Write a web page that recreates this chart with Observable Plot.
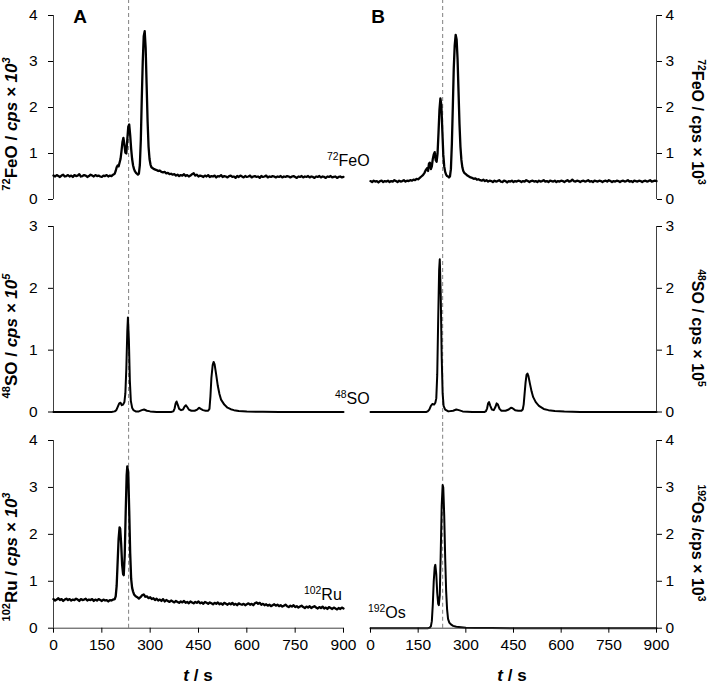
<!DOCTYPE html>
<html><head><meta charset="utf-8">
<script src="https://cdn.jsdelivr.net/npm/d3@7"></script>
<script src="https://cdn.jsdelivr.net/npm/@observablehq/plot@0.6"></script>
<style>
body{margin:0;background:#fff;}
#chart{position:relative;width:708px;height:684px;font-family:"Liberation Sans",Arial,sans-serif;}
#chart svg{position:absolute;overflow:visible;}
</style></head><body><div id="chart"></div>
<script>
// ---------- data (time in s, intensity in axis units) ----------
const xTicks = [0,150,300,450,600,750,900];
const yTicks4 = [0,1,2,3,4];
const yTicks3 = [0,1,2,3];
const ruleA = 233;   // dashed reference line, column A
const ruleB = 227;   // dashed reference line, column B

const feoA = [[0,.52],[5,.50],[10,.53],[15,.51],[20,.49],[25,.52],[30,.54],[35,.50],[40,.51],[45,.53],[50,.50],[55,.52],[60,.49],[65,.53],[70,.51],[75,.52],[80,.55],[85,.50],[90,.51],[95,.53],[100,.52],[105,.49],[110,.51],[115,.54],[120,.52],[125,.50],[130,.53],[135,.51],[140,.52],[145,.50],[150,.49],[155,.52],[160,.51],[165,.53],[170,.50],[175,.52],[180,.51],[185,.54],
[190,.56],[193,.62],[196,.70],[199,.74],[202,.72],[205,.80],[208,.88],[211,1.05],[214,1.25],[217,1.34],[220,1.20],[223,1.02],[226,1.00],[229,1.30],[232,1.58],[235,1.63],[238,1.40],[241,1.10],[244,.88],[247,.74],[250,.66],[253,.61],[256,.58],[259,.56],[262,.54],[265,.56],[268,.75],[271,1.30],[274,2.20],[277,3.00],[280,3.55],[283,3.66],[286,3.30],[289,2.50],[292,1.70],[295,1.15],[298,.88],[301,.76],[304,.70],[308,.68],[312,.66],[316,.65],[320,.64],[325,.62],[330,.63],[335,.60],[340,.59],[345,.60],[350,.57],[355,.58],[360,.55],[365,.56],[370,.54],[375,.55],[380,.52],[385,.54],[390,.51],[395,.53],[400,.52],[405,.55],
[410,.51],[415,.53],[420,.50],[425,.52],[430,.55],[435,.57],[440,.52],[445,.54],[450,.50],[455,.52],[460,.51],[465,.49],[470,.52],[475,.50],[480,.53],[485,.49],[490,.51],[495,.50],[500,.52],[505,.48],[510,.51],[515,.50],[520,.53],[525,.49],[530,.51],[535,.50],[540,.48],[545,.51],[550,.52],[555,.49],[560,.50],[565,.47],[570,.51],[575,.49],[580,.52],[585,.50],[590,.48],[595,.51],[600,.49],[605,.50],[610,.52],[615,.48],[620,.50],[625,.51],[630,.49],[635,.50],[640,.47],[645,.51],[650,.49],[655,.50],[660,.52],[665,.48],[670,.50],[675,.49],[680,.51],[685,.50],[690,.48],[695,.50],[700,.49],[705,.51],[710,.48],[715,.50],[720,.49],[725,.51],[730,.50],[735,.48],[740,.50],[745,.51],[750,.49],[755,.47],[760,.50],[765,.49],[770,.51],[775,.48],[780,.50],[785,.49],[790,.51],[795,.48],[800,.50],[805,.49],[810,.47],[815,.50],[820,.49],[825,.51],[830,.48],[835,.50],[840,.49],[845,.47],[850,.50],[855,.49],[860,.51],[865,.48],[870,.49],[875,.50],[880,.47],[885,.49],[890,.50],[895,.48],[900,.49]];

const feoB = [[0,.40],[5,.38],[10,.41],[15,.39],[20,.40],[25,.37],[30,.40],[35,.41],[40,.38],[45,.40],[50,.39],[55,.41],[60,.38],[65,.40],[70,.39],[75,.42],[80,.40],[85,.38],[90,.41],[95,.39],[100,.40],[105,.42],[110,.39],[115,.41],[120,.40],[125,.42],[130,.41],[135,.43],[140,.42],[145,.45],[150,.44],[155,.47],[160,.50],[165,.53],[170,.58],[174,.64],[178,.68],[181,.62],[184,.78],[187,.80],[190,.66],[193,.72],[196,.88],[199,.98],[202,1.03],[205,.86],[208,.82],[211,1.00],[214,1.45],[217,1.95],[220,2.20],[223,2.05],[226,1.50],[229,.98],[232,.72],[235,.60],[238,.54],[241,.51],[244,.50],[247,.48],[250,.50],[253,.66],[256,1.20],[259,2.00],[262,2.85],[265,3.35],[268,3.58],[271,3.48],[274,3.05],[277,2.35],[280,1.65],[283,1.15],[286,.86],[289,.70],[292,.62],[295,.58],[300,.55],[305,.52],[310,.50],[315,.48],[320,.47],[325,.45],[330,.46],[335,.43],[340,.44],[345,.42],
[350,.41],[355,.43],[360,.40],[365,.42],[370,.39],[375,.41],[380,.40],[385,.38],[390,.41],[395,.39],[400,.40],[405,.42],[410,.39],[415,.38],[420,.41],[425,.40],[430,.37],[435,.40],[440,.39],[445,.41],[450,.38],[455,.40],[460,.39],[465,.41],[470,.40],[475,.38],[480,.40],[485,.39],[490,.42],[495,.40],[500,.38],[505,.40],[510,.41],[515,.39],[520,.40],[525,.38],[530,.41],[535,.39],[540,.40],[545,.42],[550,.39],[555,.40],[560,.38],[565,.41],[570,.40],[575,.39],[580,.41],[585,.38],[590,.40],[595,.39],[600,.41],[605,.40],[610,.38],[615,.40],[620,.42],[625,.39],[630,.40],[635,.43],[640,.40],[645,.39],[650,.41],[655,.40],[660,.38],[665,.40],[670,.41],[675,.39],[680,.40],[685,.42],[690,.39],[695,.40],[700,.38],[705,.41],[710,.40],[715,.39],[720,.41],[725,.40],[730,.38],[735,.40],[740,.41],[745,.39],[750,.42],[755,.40],[760,.38],[765,.40],[770,.39],[775,.41],[780,.40],[785,.38],[790,.40],[795,.41],[800,.39],[805,.40],[810,.42],[815,.39],[820,.40],[825,.38],[830,.41],[835,.40],[840,.39],[845,.41],[850,.40],[855,.38],[860,.40],[865,.41],[870,.39],[875,.40],[880,.42],[885,.39],[890,.40],[895,.41],[900,.40]];

const soA = [[0,0],[180,0],[190,.01],[195,.03],[200,.09],[204,.14],[208,.15],[212,.11],[216,.12],[220,.16],[223,.30],[226,.70],[229,1.30],[231,1.53],[234,1.15],[237,.50],[240,.18],[244,.07],[248,.03],[255,.01],[265,.01],[274,.03],[281,.04],[290,.02],[300,.01],[320,0],[365,0],[372,.01],[376,.06],[379,.14],[382,.17],[386,.11],[390,.05],[396,.03],[402,.04],[407,.09],[411,.11],[415,.08],[420,.04],[428,.02],[438,.02],[446,.04],[452,.07],[457,.05],[464,.03],[472,.02],[480,.02],[484,.05],[487,.25],[490,.55],[494,.76],[497,.81],[500,.77],[505,.60],[510,.42],[515,.29],[520,.20],[530,.12],[540,.07],[550,.045],[560,.03],[575,.015],[600,.008],[650,.003],[700,0],[900,0]];

const soB = [[0,0],[175,0],[180,.01],[185,.04],[190,.10],[195,.13],[200,.12],[204,.15],[207,.22],[210,.60],[213,1.50],[216,2.30],[218,2.47],[221,1.90],[224,.90],[227,.30],[230,.10],[235,.04],[245,.01],[260,.02],[270,.04],[278,.03],[290,.01],[320,0],[358,0],[363,.01],[367,.06],[370,.14],[373,.16],[377,.10],[382,.04],[388,.03],[393,.08],[397,.14],[401,.12],[406,.05],[412,.02],[425,.02],[435,.04],[442,.07],[447,.06],[455,.03],[465,.02],[475,.02],[479,.04],[482,.12],[485,.30],[488,.48],[491,.60],[494,.62],[497,.58],[502,.45],[507,.33],[512,.24],[520,.16],[530,.10],[545,.05],[560,.03],[580,.015],[610,.007],[660,.002],[720,0],[900,0]];

const ruA = [[0,.62],[5,.59],[10,.61],[15,.64],[20,.60],[25,.62],[30,.58],[35,.61],[40,.63],[45,.60],[50,.62],[55,.59],[60,.61],[65,.60],[70,.63],[75,.61],[80,.58],[85,.62],[90,.60],[95,.61],[100,.63],[105,.59],[110,.61],[115,.60],[120,.62],[125,.58],[130,.61],[135,.59],[140,.62],[145,.60],[150,.58],[155,.61],[160,.59],[165,.60],[170,.57],[175,.60],[180,.59],[185,.61],[190,.62],
[193,.68],[196,.90],[199,1.40],[202,1.90],[205,2.15],[207,2.12],[210,1.80],[213,1.35],[216,1.15],[218,1.13],[221,1.55],[224,2.45],[227,3.25],[229,3.45],[232,3.32],[235,2.50],[238,1.60],[241,1.05],[244,.86],[247,.78],[250,.72],[255,.68],[260,.66],[265,.63],[270,.66],[275,.70],[280,.72],[285,.67],[290,.68],[295,.64],[300,.66],[305,.62],[310,.64],[315,.60],[320,.63],[325,.59],[330,.61],[335,.58],[340,.62],[345,.57],[350,.60],[355,.58],[360,.56],[365,.59],[370,.57],[375,.55],[380,.58],[385,.56],[390,.54],[395,.57],[400,.55],[405,.58],[410,.54],[415,.56],[420,.53],[425,.57],[430,.55],[435,.53],[440,.56],[445,.54],[450,.57],[455,.53],[460,.55],[465,.52],[470,.56],[475,.54],[480,.52],[485,.55],[490,.53],[495,.51],[500,.54],[505,.52],[510,.55],[515,.51],[520,.53],[525,.50],[530,.54],[535,.52],[540,.50],[545,.53],[550,.51],[555,.54],[560,.50],[565,.52],[570,.49],[575,.53],[580,.51],[585,.50],[590,.52],[595,.49],[600,.51],[605,.53],[610,.50],[615,.52],[620,.49],[625,.53],[630,.55],[635,.52],[640,.54],[645,.50],[650,.52],[655,.49],[660,.51],[665,.48],[670,.50],[675,.47],[680,.49],[685,.51],[690,.48],[695,.50],[700,.47],[705,.49],[710,.46],[715,.48],[720,.50],[725,.47],[730,.45],[735,.48],[740,.46],[745,.49],[750,.45],[755,.47],[760,.44],[765,.46],[770,.48],[775,.45],[780,.43],[785,.46],[790,.44],[795,.47],[800,.43],[805,.45],[810,.47],[815,.44],[820,.42],[825,.45],[830,.43],[835,.46],[840,.42],[845,.44],[850,.41],[855,.45],[860,.43],[865,.41],[870,.44],[875,.42],[880,.40],[885,.43],[890,.41],[895,.44],[900,.42]];

const osB = [[0,0],[180,0],[186,.01],[190,.04],[193,.15],[196,.50],[199,1.00],[202,1.30],[204,1.35],[207,1.15],[210,.75],[213,.52],[215,.49],[218,.70],[221,1.60],[224,2.60],[227,3.05],[229,3.00],[232,2.40],[235,1.50],[238,.80],[241,.40],[244,.20],[248,.12],[253,.08],[260,.05],[270,.03],[285,.02],[300,.012],[330,.006],[380,.003],[450,.001],[900,0]];

// ---------- layout ----------
const FONT = '"Liberation Sans", Arial, sans-serif';
const cols = {
  A: {x0: 0,   ml: 53, mr: 11, side: "left",  edge: 0,   rule: ruleA, pad: 11},
  B: {x0: 354, ml: 16, mr: 52, side: "right", edge: 900, rule: ruleB, pad: 4}
};
const rows = [
  {y0: 0,   h: 213, mt: 15, mb: 14,   ymax: 4, ticks: yTicks4, xaxis: false},
  {y0: 213, h: 213, mt: 13, mb: 14.5, ymax: 3, ticks: yTicks3, xaxis: false},
  {y0: 426, h: 258, mt: 14, mb: 56.3, ymax: 4, ticks: yTicks4, xaxis: true}
];
const series = {A: [feoA, soA, ruA], B: [feoB, soB, osB]};
const noisy = {A: [true, false, true], B: [true, false, false]};

const root = document.getElementById("chart");

for (const key of ["A", "B"]) {
  const c = cols[key];
  rows.forEach((r, i) => {
    const fh = r.h - r.mt - r.mb;
    const k = fh / r.ymax;
    const yTop = r.ymax + r.mt / k;
    const yBot = r.xaxis ? 0 : -r.mb / k;
    const marks = [
      Plot.ruleX([c.rule], {y1: yBot, y2: yTop, stroke: "#8c8c8c", strokeWidth: 1.1, strokeDasharray: "4,3"}),
      Plot.ruleX([c.edge], {stroke: "#404040", strokeWidth: 1}),
      Plot.line(series[key][i], {x: d => d[0], y: d => d[1], stroke: "#000", strokeWidth: noisy[key][i] ? 2.3 : 2, curve: "linear"}),
      Plot.axisY({anchor: c.side, ticks: r.ticks, tickSize: 5, tickPadding: c.pad, label: null, fontSize: 15.5, tickFormat: d => d})
    ];
    if (r.xaxis) {
      marks.push(Plot.ruleY([0], {stroke: "#404040", strokeWidth: 1}));
      marks.push(Plot.axisX({ticks: xTicks, tickSize: 5, tickPadding: 6, label: null, fontSize: 15.5, tickFormat: d => d}));
    }
    const svg = Plot.plot({
      width: 354, height: r.h,
      marginLeft: c.ml, marginRight: c.mr, marginTop: r.mt, marginBottom: r.mb,
      x: {domain: [0, 900], axis: r.xaxis ? undefined : null},
      y: {domain: [0, r.ymax]},
      style: {fontFamily: FONT, fontSize: "15.5px", background: "transparent", overflow: "visible", color: "#000"},
      marks
    });
    svg.style.left = c.x0 + "px";
    svg.style.top = r.y0 + "px";
    root.appendChild(svg);
  });
}

// ---------- text overlay ----------
const ov = d3.select(root).append("svg")
  .attr("width", 708).attr("height", 684)
  .style("left", "0px").style("top", "0px").style("pointer-events", "none")
  .attr("font-family", FONT);

function rich(sel, parts, size) {
  parts.forEach(p => {
    const ts = sel.append("tspan").text(p.t);
    if (p.sup) ts.attr("font-size", size * 0.65).attr("dy", -size * 0.4);
    if (p.after) ts.attr("dy", size * 0.4);
    if (p.it) ts.attr("font-style", "italic");
  });
}
// panel letters
ov.append("text").attr("x", 80).attr("y", 23).attr("text-anchor", "middle").attr("font-weight", "bold").attr("font-size", 19).text("A");
ov.append("text").attr("x", 378).attr("y", 23).attr("text-anchor", "middle").attr("font-weight", "bold").attr("font-size", 19).text("B");

// series labels
const sl = [
  {x: 327, y: 166, iso: "72", el: "FeO"},
  {x: 335, y: 404, iso: "48", el: "SO"},
  {x: 304, y: 600, iso: "102", el: "Ru"},
  {x: 368, y: 618, iso: "192", el: "Os"}
];
sl.forEach(s => {
  const t = ov.append("text").attr("x", s.x).attr("y", s.y).attr("font-size", 16);
  rich(t, [{t: s.iso, sup: true}, {t: s.el, after: true}], 16);
});

// y-axis titles
const yt = [
  {x: 17, y: 124, rot: -90, iso: "72", el: "FeO", unit: " / ", exp: "3", it: true, fs: 17},
  {x: 17, y: 336, rot: -90, iso: "48", el: "SO", unit: " / ", exp: "5", it: true, fs: 17},
  {x: 17, y: 557, rot: -90, iso: "102", el: "Ru", unit: " / ", exp: "3", it: true, fs: 17},
  {x: 692, y: 122, rot: 90, iso: "72", el: "FeO", unit: " / ", exp: "3", it: false, fs: 16},
  {x: 692, y: 328, rot: 90, iso: "48", el: "SO", unit: " / ", exp: "5", it: false, fs: 16},
  {x: 692, y: 543, rot: 90, iso: "192", el: "Os", unit: " /", exp: "3", it: false, fs: 16}
];
yt.forEach(s => {
  const fs = s.fs;
  const t = ov.append("text").attr("transform", `translate(${s.x},${s.y}) rotate(${s.rot})`)
    .attr("text-anchor", "middle").attr("font-weight", "bold").attr("font-size", fs);
  rich(t, [
    {t: s.iso, sup: true}, {t: s.el, after: true}, {t: s.unit},
    {t: "cps × 10", it: s.it}, {t: s.exp, sup: true, it: s.it}
  ], fs);
});

// x-axis titles
[[198, 681], [512, 681]].forEach(([x, y]) => {
  const t = ov.append("text").attr("x", x).attr("y", y).attr("text-anchor", "middle")
    .attr("font-weight", "bold").attr("font-size", 17);
  t.append("tspan").attr("font-style", "italic").text("t");
  t.append("tspan").text(" / s");
});
</script></body></html>
